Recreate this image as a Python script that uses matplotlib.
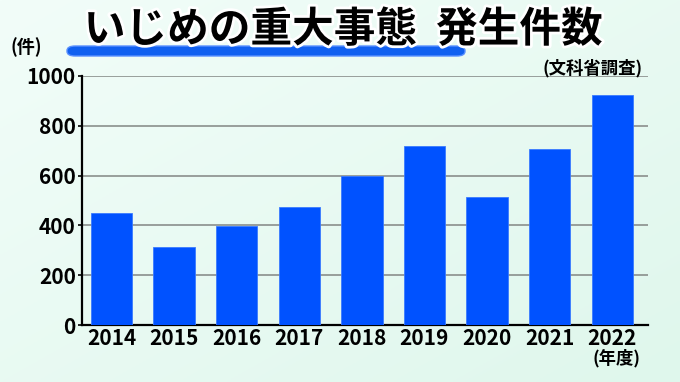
import matplotlib
matplotlib.use("Agg")
import matplotlib.pyplot as plt
import matplotlib.patheffects as pe
from matplotlib.patches import FancyBboxPatch
import numpy as np

years = ["2014", "2015", "2016", "2017", "2018", "2019", "2020", "2021", "2022"]
counts = [450, 314, 398, 472, 600, 717, 514, 706, 923]
yticks = [0, 200, 400, 600, 800, 1000]

plt.rcParams['font.family'] = ['Noto Sans CJK JP', 'DejaVu Sans']
plt.rcParams['font.weight'] = 'bold'

W, H = 680, 382
fig = plt.figure(figsize=(W / 100, H / 100), dpi=100)

# background gradient
bg = fig.add_axes([0, 0, 1, 1], zorder=-10)
xx, yy = np.meshgrid(np.linspace(0, 1, 200), np.linspace(0, 1, 200))
t = np.clip((xx + (1 - yy)) / 2, 0, 1)  # 0 bottom-left, 1 top-right
c0 = np.array([0xf2, 0xfd, 0xf9]) / 255
c1 = np.array([0xdf, 0xf7, 0xec]) / 255
img = c0[None, None, :] * (1 - t[..., None]) + c1[None, None, :] * t[..., None]
bg.imshow(img, origin='lower', extent=[0, 1, 0, 1], aspect='auto')
bg.set_axis_off()

# main axes
x0, x1 = 82, 648
ytop, ybot = 76, 325
ax = fig.add_axes([x0 / W, 1 - ybot / H, (x1 - x0) / W, (ybot - ytop) / H])
ax.patch.set_alpha(0)
x = np.arange(len(years))
ax.bar(x, counts, width=0.66, color='#0052ff', edgecolor='#3a7bff', linewidth=0.6, zorder=3)
ax.set_xlim(-0.47, len(years) - 1 + 0.57)
ax.set_ylim(0, 1000)
ax.set_yticks(yticks)
ax.set_yticklabels([str(v) for v in yticks], fontsize=15, fontweight='bold')
ax.set_xticks(x)
ax.set_xticklabels(years, fontsize=15, fontweight='bold')
for v in yticks[1:]:
    ax.axhline(v, color='#8a8f8c', linewidth=1.2, zorder=1)
for s in ['top', 'right']:
    ax.spines[s].set_visible(False)
ax.spines['left'].set_linewidth(1.6)
ax.spines['bottom'].set_linewidth(1.6)
ax.tick_params(axis='y', length=3, width=1.2, pad=1.5)
ax.tick_params(axis='x', length=0, pad=2)

# title with underline bar
bar = FancyBboxPatch((67 / W, 1 - 56 / H), (465 - 67) / W, 10 / H,
                     boxstyle="round,pad=0,rounding_size=0.012",
                     transform=fig.transFigure, facecolor='#1060f0',
                     edgecolor='#5a90ff', linewidth=1.0, zorder=5)
fig.patches.append(bar)
fig.text(343 / W, 1 - 30 / H, "いじめの重大事態  発生件数", fontsize=30,
         fontweight='bold', ha='center', va='center', color='black', zorder=6,
         path_effects=[pe.withStroke(linewidth=4, foreground='white')])

fig.text(10 / W, 1 - 47 / H, "(件)", fontsize=13, fontweight='bold', ha='left', va='center')
fig.text(643 / W, 1 - 68 / H, "(文科省調査)", fontsize=12.5, fontweight='bold', ha='right', va='center')
fig.text(640 / W, 1 - 358 / H, "(年度)", fontsize=12.5, fontweight='bold', ha='right', va='center')

fig.savefig("out.png", dpi=100)
